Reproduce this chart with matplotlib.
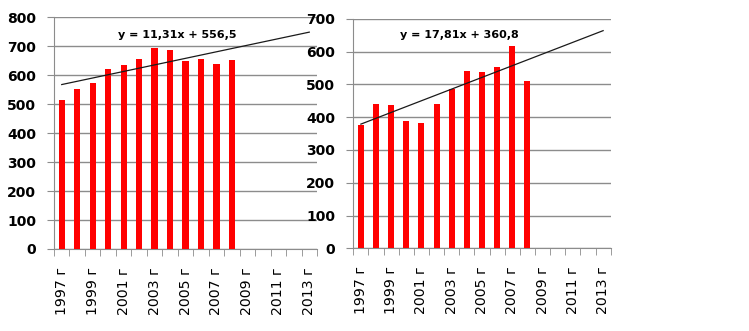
import numpy as np
import matplotlib
matplotlib.use("Agg")
import matplotlib.pyplot as plt

years = list(range(1997, 2014))
year_labels = [f"{y} г" for y in years]

left_values = [514, 552, 573, 621, 635, 656, 694, 687, 649, 656, 640, 653]
right_values = [376, 440, 437, 388, 382, 440, 485, 540, 537, 553, 617, 510]

left_trend = (11.31, 556.5)
right_trend = (17.81, 360.8)

left_ymax, right_ymax = 800, 700

W, H = 749, 331
fig = plt.figure(figsize=(W / 100, H / 100), dpi=100)

grid_color = "#8c8c8c"


def draw_panel(rect, values, trend, ymax, eq_xy):
    ax = fig.add_axes([rect[0] / W, 1 - rect[3] / H, (rect[2] - rect[0]) / W,
                       (rect[3] - rect[1]) / H])
    n = len(years)
    x = np.arange(1, len(values) + 1)
    ax.bar(x, values, width=0.4, color="#ff0000", zorder=3)

    slope, icpt = trend
    tx = np.array([1, n])
    ax.plot(tx, slope * tx + icpt, color="#1a1a1a", lw=0.9, zorder=4)
    eq = f"y = {slope:.2f}x + {icpt:.1f}".replace(".", ",")
    ax.text(eq_xy[0], eq_xy[1], eq, transform=ax.transAxes, fontsize=8,
            fontweight="bold", ha="left", va="center", zorder=5)

    ax.set_xlim(0.5, n + 0.5)
    ax.set_ylim(0, ymax)
    ax.set_yticks(np.arange(0, ymax + 1, 100))
    ax.yaxis.grid(True, color=grid_color, lw=1, zorder=0)
    ax.set_axisbelow(True)

    ax.set_xticks(np.arange(1, n + 1, 2))
    ax.set_xticklabels(year_labels[::2], rotation=90, fontsize=10.2,
                       va="top", ha="center")
    ax.set_xticks(np.arange(0.5, n + 1, 1), minor=True)
    ax.tick_params(axis="x", which="major", length=0, pad=13)
    ax.tick_params(axis="x", which="minor", length=5, color=grid_color,
                   direction="out")
    ax.tick_params(axis="y", length=5, color=grid_color, pad=8,
                   labelsize=10)
    for lbl in ax.get_yticklabels():
        lbl.set_fontweight("bold")

    for side in ("top", "right"):
        ax.spines[side].set_visible(False)
    for side in ("left", "bottom"):
        ax.spines[side].set_color(grid_color)
    return ax


draw_panel((54, 17.3, 317, 249), left_values, left_trend, left_ymax,
           (0.245, 0.925))
draw_panel((353.3, 18.7, 610.7, 248.3), right_values, right_trend, right_ymax,
           (0.18, 0.93))

fig.savefig("out.png", dpi=100)
